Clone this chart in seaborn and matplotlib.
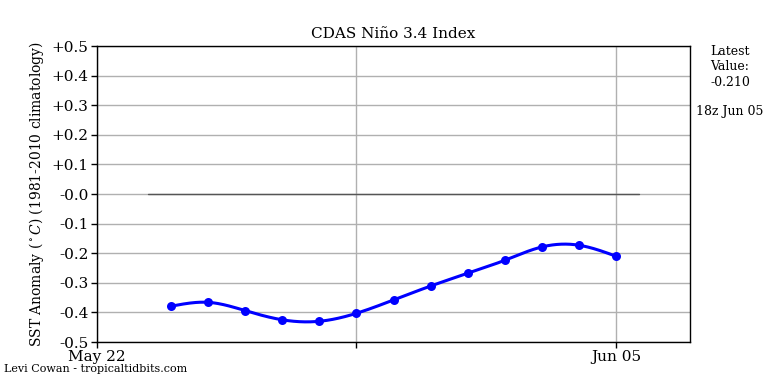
import numpy as np
import pandas as pd
import matplotlib
matplotlib.use("Agg")
import matplotlib.pyplot as plt
import seaborn as sns

# Data (day offset from May 22)
days = [2, 3, 4, 5, 6, 7, 8, 9, 10, 11, 12, 13, 14]
values = [-0.379, -0.366, -0.394, -0.425, -0.430, -0.403, -0.358,
          -0.311, -0.268, -0.224, -0.179, -0.173, -0.210]
xtick_pos = [0, 7, 14]
xtick_labels = ["May 22", "", "Jun 05"]
ytick_vals = [0.5, 0.4, 0.3, 0.2, 0.1, 0.0, -0.1, -0.2, -0.3, -0.4, -0.5]
ytick_labels = ["+0.5", "+0.4", "+0.3", "+0.2", "+0.1", "-0.0",
                "-0.1", "-0.2", "-0.3", "-0.4", "-0.5"]
zero_span = [1.37, 14.62]


def natural_spline(x, y, n=400):
    x = np.asarray(x, float); y = np.asarray(y, float)
    m = len(x); h = np.diff(x)
    A = np.zeros((m, m)); r = np.zeros(m)
    A[0, 0] = A[-1, -1] = 1
    for i in range(1, m - 1):
        A[i, i - 1] = h[i - 1]; A[i, i] = 2 * (h[i - 1] + h[i]); A[i, i + 1] = h[i]
        r[i] = 3 * ((y[i + 1] - y[i]) / h[i] - (y[i] - y[i - 1]) / h[i - 1])
    c = np.linalg.solve(A, r)
    b = (np.diff(y) / h) - h * (2 * c[:-1] + c[1:]) / 3
    d = np.diff(c) / (3 * h)
    xs = np.linspace(x[0], x[-1], n)
    idx = np.clip(np.searchsorted(x, xs, side="right") - 1, 0, m - 2)
    dx = xs - x[idx]
    ys = y[idx] + b[idx] * dx + c[idx] * dx ** 2 + d[idx] * dx ** 3
    return xs, ys


sns.set_theme(style="white")
plt.rcParams["font.family"] = ["DejaVu Serif"]
plt.rcParams["mathtext.fontset"] = "dejavuserif"
for k in ["text.color", "axes.labelcolor", "xtick.color", "ytick.color"]:
    plt.rcParams[k] = "black"

fig = plt.figure(figsize=(7.68, 3.84), dpi=100)
ax = fig.add_axes([97 / 768, 1 - 342 / 384, (690 - 97) / 768, (342 - 46) / 384])

df = pd.DataFrame({"day": days, "value": values})
xs, ys = natural_spline(days, values)
smooth = pd.DataFrame({"day": xs, "value": ys})

ax.plot(zero_span, [0, 0], color="#555555", lw=1.0, zorder=2)
sns.lineplot(data=smooth, x="day", y="value", color="blue", lw=2.2, ax=ax, zorder=3)
sns.scatterplot(data=df, x="day", y="value", color="blue", s=42, edgecolor="blue",
                linewidth=0, ax=ax, zorder=4)

ax.set_xlim(0, 16)
ax.set_ylim(-0.5, 0.5)
ax.set_xticks(xtick_pos)
ax.set_xticklabels(xtick_labels, fontsize=11)
ax.set_yticks(ytick_vals)
ax.set_yticklabels(ytick_labels, fontsize=11)
ax.grid(True, color="#b0b0b0", lw=1.0, zorder=0)
ax.set_axisbelow(True)
for s in ax.spines.values():
    s.set_color("black"); s.set_linewidth(1.0)
ax.tick_params(axis="both", length=4, width=1, color="black", pad=2, direction="out",
               bottom=True, left=True)
ax.set_xlabel("")
ax.set_ylabel(r"SST Anomaly ($^\circ C$) (1981-2010 climatology)", fontsize=10)
ax.set_title("CDAS Niño 3.4 Index", fontsize=11, color="black")

fig.text(730 / 768, 1 - 67 / 384, "Latest\nValue:\n-0.210", ha="center", va="center",
         fontsize=9, linespacing=1.25)
fig.text(730 / 768, 1 - 111 / 384, "18z Jun 05", ha="center", va="center", fontsize=9)
fig.text(4 / 768, 1 - 369 / 384, "Levi Cowan - tropicaltidbits.com", ha="left",
         va="center", fontsize=8)

fig.savefig("out.png", dpi=100)
